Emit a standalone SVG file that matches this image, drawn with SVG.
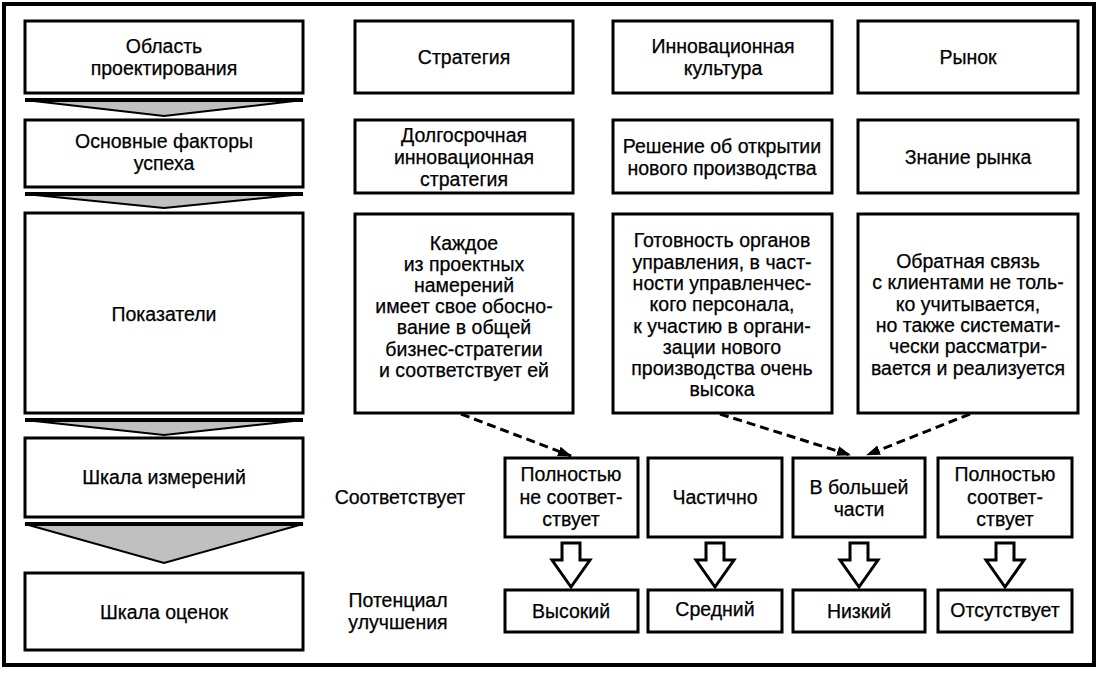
<svg xmlns="http://www.w3.org/2000/svg" width="1102" height="673" viewBox="0 0 1102 673">
<style>
.b{fill:#fff;stroke:#000;stroke-width:3}
.t{font-family:"Liberation Sans",Arial,sans-serif;font-size:19.5px;fill:#000;stroke:#000;stroke-width:0.25;text-anchor:middle}
.ch{fill:#c0c0c0;stroke:#000;stroke-width:2;stroke-linejoin:miter}
.bar{stroke:#000;stroke-width:4}
.ha{fill:#fff;stroke:#000;stroke-width:3;stroke-linejoin:miter}
.d{stroke:#000;stroke-width:3;stroke-dasharray:9 5;fill:none}
</style>
<defs>
<marker id="ah" markerWidth="14" markerHeight="10" refX="13" refY="5" orient="auto" markerUnits="userSpaceOnUse">
<path d="M0,0 L14,5 L0,10 z" fill="#000"/>
</marker>
</defs>
<rect x="4" y="4" width="1090" height="661" fill="#fff" stroke="#000" stroke-width="4"/>

<g id="chevrons">
<polygon class="ch" points="25,100 303,100 164,116"/>
<line class="bar" x1="25" y1="100" x2="303" y2="100"/>
<polygon class="ch" points="25,194 303,194 164,208"/>
<line class="bar" x1="25" y1="194" x2="303" y2="194"/>
<polygon class="ch" points="25,420 303,420 164,435"/>
<line class="bar" x1="25" y1="420" x2="303" y2="420"/>
<polygon class="ch" points="25,524 303,524 164,563"/>
<line class="bar" x1="25" y1="524" x2="303" y2="524"/>
</g>

<g id="n-area"><rect class="b" x="25" y="21" width="278" height="72"/><text class="t" x="164" y="53">Область</text><text class="t" x="164" y="75">проектирования</text></g>
<g id="n-factors"><rect class="b" x="25" y="120" width="278" height="67"/><text class="t" x="164" y="148">Основные факторы</text><text class="t" x="164" y="170">успеха</text></g>
<g id="n-indicators"><rect class="b" x="25" y="213" width="278" height="200"/><text class="t" x="164" y="321">Показатели</text></g>
<g id="n-scale"><rect class="b" x="25" y="438" width="278" height="79"/><text class="t" x="164" y="484">Шкала измерений</text></g>
<g id="n-eval"><rect class="b" x="25" y="573" width="278" height="77"/><text class="t" x="164" y="619">Шкала оценок</text></g>

<g id="n-strategy"><rect class="b" x="355" y="21" width="218" height="72"/><text class="t" x="464" y="64">Стратегия</text></g>
<g id="n-culture"><rect class="b" x="613" y="21" width="219" height="72"/><text class="t" x="723" y="53">Инновационная</text><text class="t" x="723" y="75">культура</text></g>
<g id="n-market"><rect class="b" x="858" y="21" width="220" height="72"/><text class="t" x="968" y="64">Рынок</text></g>

<g id="n-longterm"><rect class="b" x="355" y="120" width="218" height="73"/><text class="t" x="464" y="142">Долгосрочная</text><text class="t" x="464" y="164">инновационная</text><text class="t" x="464" y="186">стратегия</text></g>
<g id="n-decision"><rect class="b" x="613" y="120" width="219" height="73"/><text class="t" x="722" y="153">Решение об открытии</text><text class="t" x="722" y="175">нового производства</text></g>
<g id="n-knowledge"><rect class="b" x="858" y="120" width="220" height="73"/><text class="t" x="968" y="164">Знание рынка</text></g>

<g id="n-ind1"><rect class="b" x="355" y="214" width="218" height="199"/>
<text class="t" x="464" y="250">Каждое</text><text class="t" x="464" y="271">из проектных</text><text class="t" x="464" y="292">намерений</text><text class="t" x="464" y="313">имеет свое обосно-</text><text class="t" x="464" y="334">вание в общей</text><text class="t" x="464" y="356">бизнес-стратегии</text><text class="t" x="464" y="377">и соответствует ей</text></g>
<g id="n-ind2"><rect class="b" x="613" y="214" width="219" height="199"/>
<text class="t" x="722" y="247">Готовность органов</text><text class="t" x="722" y="269">управления, в част-</text><text class="t" x="722" y="290">ности управленчес-</text><text class="t" x="722" y="311">кого персонала,</text><text class="t" x="722" y="333">к участию в органи-</text><text class="t" x="722" y="354">зации нового</text><text class="t" x="722" y="375">производства очень</text><text class="t" x="722" y="396">высока</text></g>
<g id="n-ind3"><rect class="b" x="858" y="214" width="220" height="199"/>
<text class="t" x="968" y="268">Обратная связь</text><text class="t" x="968" y="289">с клиентами не толь-</text><text class="t" x="968" y="311">ко учитывается,</text><text class="t" x="968" y="332">но также системати-</text><text class="t" x="968" y="353">чески рассматри-</text><text class="t" x="968" y="375">вается и реализуется</text></g>

<g id="labels"><text class="t" x="400" y="504">Соответствует</text><text class="t" x="398" y="607">Потенциал</text><text class="t" x="398" y="629">улучшения</text></g>

<g id="n-m1"><rect class="b" x="505" y="458" width="133" height="79"/><text class="t" x="571" y="481">Полностью</text><text class="t" x="571" y="504">не соответ-</text><text class="t" x="571" y="526">ствует</text></g>
<g id="n-m2"><rect class="b" x="648" y="458" width="134" height="79"/><text class="t" x="715" y="504">Частично</text></g>
<g id="n-m3"><rect class="b" x="793" y="458" width="132" height="79"/><text class="t" x="859" y="494">В большей</text><text class="t" x="859" y="516">части</text></g>
<g id="n-m4"><rect class="b" x="938" y="458" width="134" height="79"/><text class="t" x="1005" y="481">Полностью</text><text class="t" x="1005" y="504">соответ-</text><text class="t" x="1005" y="526">ствует</text></g>

<g id="n-p1"><rect class="b" x="505" y="590" width="133" height="42"/><text class="t" x="571" y="618">Высокий</text></g>
<g id="n-p2"><rect class="b" x="648" y="590" width="134" height="42"/><text class="t" x="715" y="616">Средний</text></g>
<g id="n-p3"><rect class="b" x="793" y="590" width="132" height="42"/><text class="t" x="859" y="618">Низкий</text></g>
<g id="n-p4"><rect class="b" x="938" y="590" width="134" height="42"/><text class="t" x="1005" y="617">Отсутствует</text></g>

<g id="connectors">
<line class="d" x1="461" y1="414" x2="571" y2="456" marker-end="url(#ah)"/>
<line class="d" x1="720" y1="414" x2="850" y2="455" marker-end="url(#ah)"/>
<line class="d" x1="970" y1="414" x2="867" y2="455" marker-end="url(#ah)"/>
<polygon class="ha" points="562,543 580,543 580,560 590,560 571,587 552,560 562,560"/>
<polygon class="ha" points="706,543 724,543 724,560 734,560 715,587 696,560 706,560"/>
<polygon class="ha" points="850,543 868,543 868,560 878,560 859,587 840,560 850,560"/>
<polygon class="ha" points="996,543 1014,543 1014,560 1024,560 1005,587 986,560 996,560"/>
</g>
</svg>
